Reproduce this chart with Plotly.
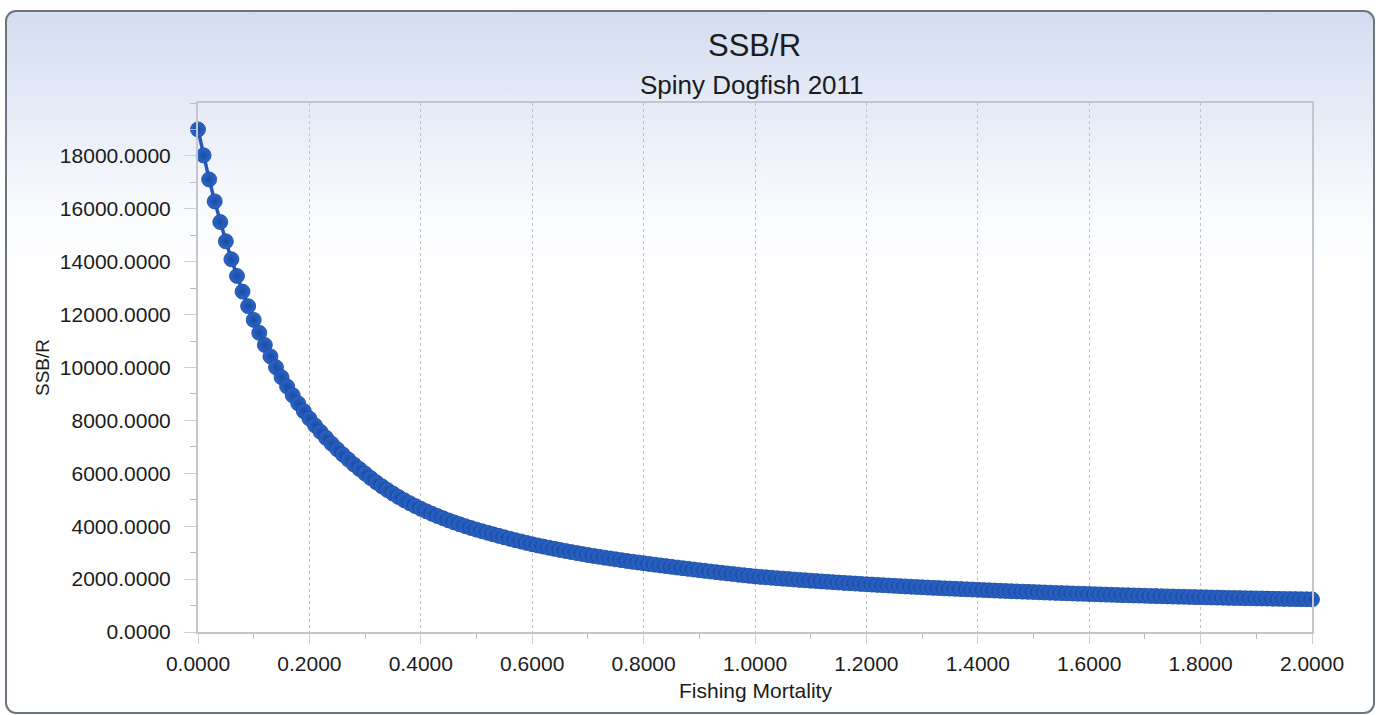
import base64
import plotly.graph_objects as go

# ---------------- data ----------------
fishing_mortality = [
    0.00, 0.01, 0.02, 0.03, 0.04, 0.05, 0.06, 0.07, 0.08, 0.09,
    0.10, 0.11, 0.12, 0.13, 0.14, 0.15, 0.16, 0.17, 0.18, 0.19,
    0.20, 0.21, 0.22, 0.23, 0.24, 0.25, 0.26, 0.27, 0.28, 0.29,
    0.30, 0.31, 0.32, 0.33, 0.34, 0.35, 0.36, 0.37, 0.38, 0.39,
    0.40, 0.41, 0.42, 0.43, 0.44, 0.45, 0.46, 0.47, 0.48, 0.49,
    0.50, 0.51, 0.52, 0.53, 0.54, 0.55, 0.56, 0.57, 0.58, 0.59,
    0.60, 0.61, 0.62, 0.63, 0.64, 0.65, 0.66, 0.67, 0.68, 0.69,
    0.70, 0.71, 0.72, 0.73, 0.74, 0.75, 0.76, 0.77, 0.78, 0.79,
    0.80, 0.81, 0.82, 0.83, 0.84, 0.85, 0.86, 0.87, 0.88, 0.89,
    0.90, 0.91, 0.92, 0.93, 0.94, 0.95, 0.96, 0.97, 0.98, 0.99,
    1.00, 1.01, 1.02, 1.03, 1.04, 1.05, 1.06, 1.07, 1.08, 1.09,
    1.10, 1.11, 1.12, 1.13, 1.14, 1.15, 1.16, 1.17, 1.18, 1.19,
    1.20, 1.21, 1.22, 1.23, 1.24, 1.25, 1.26, 1.27, 1.28, 1.29,
    1.30, 1.31, 1.32, 1.33, 1.34, 1.35, 1.36, 1.37, 1.38, 1.39,
    1.40, 1.41, 1.42, 1.43, 1.44, 1.45, 1.46, 1.47, 1.48, 1.49,
    1.50, 1.51, 1.52, 1.53, 1.54, 1.55, 1.56, 1.57, 1.58, 1.59,
    1.60, 1.61, 1.62, 1.63, 1.64, 1.65, 1.66, 1.67, 1.68, 1.69,
    1.70, 1.71, 1.72, 1.73, 1.74, 1.75, 1.76, 1.77, 1.78, 1.79,
    1.80, 1.81, 1.82, 1.83, 1.84, 1.85, 1.86, 1.87, 1.88, 1.89,
    1.90, 1.91, 1.92, 1.93, 1.94, 1.95, 1.96, 1.97, 1.98, 1.99,
    2.00,
]

ssb_per_recruit = [
    19000, 18020, 17110, 16280, 15500, 14770, 14090, 13460, 12870, 12320,
    11800, 11310, 10850, 10420, 10010, 9630, 9280, 8950, 8640, 8350,
    8070, 7810, 7570, 7340, 7120, 6910, 6710, 6520, 6330, 6160,
    5990, 5820, 5660, 5510, 5368, 5233, 5105, 4984, 4870, 4762,
    4660, 4563, 4471, 4383, 4299, 4219, 4143, 4070, 4000, 3934,
    3870, 3809, 3750, 3692, 3635, 3579, 3524, 3471, 3419, 3368,
    3318, 3273, 3229, 3186, 3144, 3103, 3063, 3024, 2986, 2948,
    2911, 2877, 2844, 2811, 2779, 2748, 2717, 2687, 2658, 2629,
    2601, 2573, 2545, 2518, 2491, 2465, 2439, 2413, 2387, 2361,
    2336, 2311, 2287, 2263, 2239, 2215, 2192, 2169, 2146, 2123,
    2101, 2083, 2066, 2049, 2033, 2017, 2001, 1985, 1970, 1955,
    1940, 1926, 1912, 1898, 1884, 1870, 1857, 1844, 1831, 1818,
    1805, 1793, 1781, 1769, 1757, 1745, 1734, 1723, 1712, 1701,
    1690, 1680, 1670, 1660, 1650, 1640, 1631, 1622, 1613, 1604,
    1595, 1586, 1577, 1568, 1559, 1550, 1542, 1534, 1526, 1518,
    1510, 1502, 1494, 1486, 1478, 1470, 1463, 1456, 1449, 1442,
    1435, 1428, 1421, 1414, 1407, 1400, 1394, 1388, 1382, 1376,
    1370, 1364, 1358, 1352, 1346, 1340, 1335, 1330, 1325, 1320,
    1315, 1310, 1305, 1300, 1295, 1290, 1286, 1282, 1278, 1274,
    1270, 1266, 1262, 1258, 1254, 1250, 1247, 1244, 1241, 1238,
    1235,
]

x_tick_values = [0.0, 0.2, 0.4, 0.6, 0.8, 1.0, 1.2, 1.4, 1.6, 1.8, 2.0]
y_tick_values = [0, 2000, 4000, 6000, 8000, 10000, 12000, 14000, 16000, 18000]

title_text = "SSB/R"
subtitle_text = "Spiny Dogfish 2011"
x_title = "Fishing Mortality"
y_title = "SSB/R"

# ---------------- layout geometry ----------------
W, H = 1376, 715
ML, MR, MT, MB = 198, 64, 103, 83
PW, PH = W - ML - MR, H - MT - MB


def px_x(px):
    return (px - ML) / PW


def px_y(py):
    return 1 - (py - MT) / PH


FONT = "Liberation Sans, Arial, sans-serif"
TEXT = "#1c1c1c"
AXIS = "#c3c7cd"

# background panel: rounded frame with a light-blue to white vertical gradient
svg = f"""<svg xmlns='http://www.w3.org/2000/svg' width='{W}' height='{H}' viewBox='0 0 {W} {H}'>
<defs><linearGradient id='g' x1='0' y1='0' x2='0' y2='1'>
<stop offset='0' stop-color='#d3ddf0'/>
<stop offset='0.12' stop-color='#e3e9f6'/>
<stop offset='0.30' stop-color='#fbfcfe'/>
<stop offset='0.40' stop-color='#ffffff'/>
<stop offset='1' stop-color='#ffffff'/>
</linearGradient></defs>
<rect x='6' y='11' width='{W - 8}' height='{H - 13}' rx='10' ry='10' fill='url(#g)' stroke='#6e747d' stroke-width='2'/>
</svg>"""
svg_uri = "data:image/svg+xml;base64," + base64.b64encode(svg.encode()).decode()

fig = go.Figure()
fig.add_trace(go.Scatter(
    x=fishing_mortality,
    y=ssb_per_recruit,
    mode="lines+markers",
    line=dict(color="#2359be", width=3.5),
    marker=dict(size=15, color="#2b66cc",
                gradient=dict(type="radial", color="#1a4aa0"),
                line=dict(color="#1a4896", width=0.8)),
    cliponaxis=False,
    showlegend=False,
    hoverinfo="x+y",
))

fig.update_layout(
    width=W, height=H,
    margin=dict(l=ML, r=MR, t=MT, b=MB, autoexpand=False),
    paper_bgcolor="white",
    plot_bgcolor="rgba(0,0,0,0)",
    font=dict(family=FONT, color=TEXT),
    showlegend=False,
    images=[dict(
        source=svg_uri, xref="paper", yref="paper",
        x=-ML / PW, y=1 + MT / PH, sizex=W / PW, sizey=H / PH,
        xanchor="left", yanchor="top", sizing="stretch", layer="below",
    )],
    annotations=[
        dict(text=title_text, x=px_x(754), y=px_y(45), xref="paper", yref="paper",
             xanchor="center", yanchor="middle", showarrow=False,
             font=dict(size=31, family=FONT, color=TEXT)),
        dict(text=subtitle_text, x=px_x(752), y=px_y(85), xref="paper", yref="paper",
             xanchor="center", yanchor="middle", showarrow=False,
             font=dict(size=26, family=FONT, color=TEXT)),
        dict(text=x_title, x=px_x(755), y=px_y(690), xref="paper", yref="paper",
             xanchor="center", yanchor="middle", showarrow=False,
             font=dict(size=21, family=FONT, color=TEXT)),
        dict(text=y_title, x=px_x(42), y=px_y(368), xref="paper", yref="paper",
             xanchor="center", yanchor="middle", showarrow=False, textangle=-90,
             font=dict(size=19, family=FONT, color=TEXT)),
    ],
)

fig.update_xaxes(
    range=[0, 2],
    tickmode="array", tickvals=x_tick_values, tickformat=".4f",
    ticks="outside", ticklen=10, tickwidth=1, tickcolor="#cdd1d6",
    ticklabelstandoff=2,
    tickfont=dict(size=21, family=FONT, color=TEXT),
    showgrid=True, gridcolor="#bfc3c9", griddash="dot", gridwidth=1,
    showline=True, linecolor=AXIS, linewidth=2, mirror=True,
    zeroline=False,
    minor=dict(dtick=0.1, ticks="outside", ticklen=5, tickcolor="#b9bdc3", showgrid=False),
)

fig.update_yaxes(
    range=[0, 20000],
    tickmode="array", tickvals=y_tick_values, tickformat=".4f",
    ticks="outside", ticklen=12, tickwidth=1, tickcolor="#cdd1d6",
    ticklabelstandoff=9,
    tickfont=dict(size=21, family=FONT, color=TEXT),
    showgrid=False,
    showline=True, linecolor=AXIS, linewidth=2, mirror=True,
    zeroline=False,
    minor=dict(dtick=1000, ticks="outside", ticklen=6, tickcolor="#b9bdc3", showgrid=False),
)

fig.write_html("out.html")
